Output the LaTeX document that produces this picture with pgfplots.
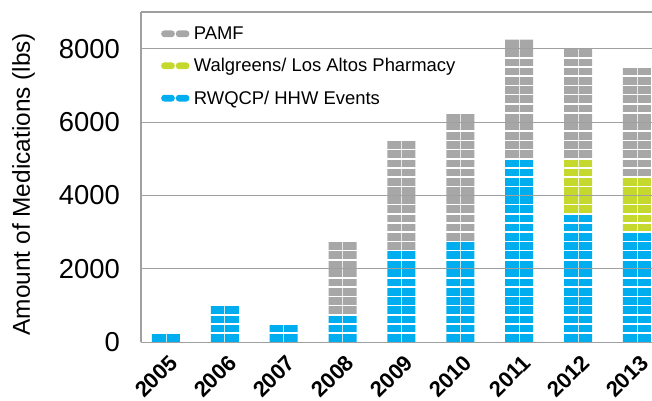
\documentclass[border=0pt]{standalone}
\usepackage{pgfplots}
\pgfplotsset{compat=1.18}
\usepackage{fontspec}
\setmainfont{Liberation Sans}
\definecolor{pblue}{RGB}{0,174,239}
\definecolor{pgreen}{RGB}{196,216,46}
\definecolor{pgray}{RGB}{167,167,167}
\definecolor{axgray}{RGB}{160,160,160}
\newcommand{\pillicon}[1]{%
  \fill[#1,rounded corners=3.2bp] (0bp,-3.4bp) rectangle (13.6bp,3.4bp);
  \fill[#1,rounded corners=3.2bp] (14.6bp,-3.4bp) rectangle (28.2bp,3.4bp);}
\begin{document}
\begin{tikzpicture}
\useasboundingbox (0,0) rectangle (652bp,401bp);
\begin{axis}[
  at={(141bp,58.7bp)}, anchor=south west,
  width=511bp, height=330.3bp, scale only axis,
  ybar stacked, bar width=28bp,
  xmin=-0.424, xmax=8.255, ymin=0, ymax=9000,
  axis x line*=box, axis y line*=left,
  axis line style={draw=axgray, line width=1.2bp},
  xtick={0,1,2,3,4,5,6,7,8},
  xticklabels={2005,2006,2007,2008,2009,2010,2011,2012,2013},
  ytick={0,2000,4000,6000,8000},
  yticklabels={0,2000,4000,6000,8000},
  minor y tick num=7,
  ymajorgrids, yminorgrids, xmajorgrids,
  major y grid style={draw=axgray, line width=1bp},
  minor y grid style={draw=white, line width=1.6bp},
  major x grid style={draw=white, line width=0.9bp, opacity=0.75},
  major tick length=0pt, minor tick length=0pt,
  tick style={draw=none},
  axis on top,
  /pgf/number format/assume math mode=true,
  yticklabel style={font=\fontsize{27.5}{27.5}\selectfont, anchor=east, inner sep=0pt, xshift=-21bp},
  xticklabel style={font=\fontsize{22}{22}\selectfont\bfseries, xshift=2bp, yshift=-11bp, rotate=45, anchor=north east, inner sep=0pt},
  ylabel={Amount of Medications (lbs)},
  every axis y label/.style={at={(axis description cs:0,0.5)}, xshift=-129bp, yshift=-7bp, rotate=90, anchor=north, inner sep=0pt, font=\fontsize{24.5}{24.5}\selectfont},
  legend style={draw=none, fill=none, at={(axis description cs:0,1)}, anchor=north west, xshift=20bp, yshift=-10bp, inner sep=0pt, row sep=8.5bp, font=\fontsize{18.5}{18.5}\selectfont, nodes={inner sep=4.5bp}},
  legend cell align=left,
  reverse legend,
]
\addplot[fill=pblue, draw=none, legend image code/.code={\pillicon{pblue}}] coordinates {(0,250) (1,1000) (2,500) (3,750) (4,2500) (5,2750) (6,5000) (7,3500) (8,3000)};
\addlegendentry{RWQCP/ HHW Events}
\addplot[fill=pgreen, draw=none, legend image code/.code={\pillicon{pgreen}}] coordinates {(0,0) (1,0) (2,0) (3,0) (4,0) (5,0) (6,0) (7,1500) (8,1500)};
\addlegendentry{Walgreens/ Los Altos Pharmacy}
\addplot[fill=pgray, draw=none, legend image code/.code={\pillicon{pgray}}] coordinates {(0,0) (1,0) (2,0) (3,2000) (4,3000) (5,3500) (6,3250) (7,3000) (8,3000)};
\addlegendentry{PAMF}
\end{axis}
\end{tikzpicture}
\end{document}
